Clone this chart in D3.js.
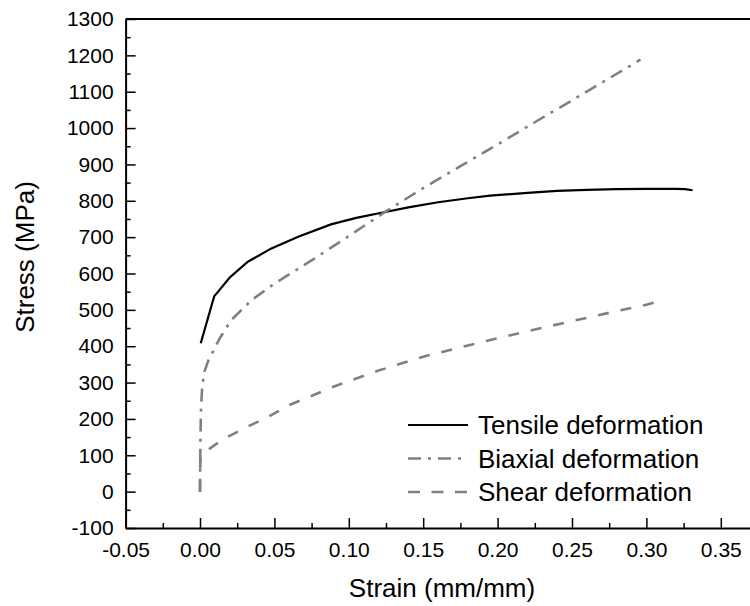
<!DOCTYPE html>
<html>
<head>
<meta charset="utf-8">
<script src="https://cdn.jsdelivr.net/npm/d3@7"></script>
<style>
  body { margin: 0; background: #fff; }
  text { font-family: "Liberation Sans", Arial, sans-serif; fill: #000; }
</style>
</head>
<body>
<svg id="chart"></svg>
<script>
// data
var tensileStrain = [0.0005, 0.0095, 0.02, 0.032, 0.048, 0.066, 0.088, 0.105, 0.122, 0.14, 0.16, 0.18, 0.195, 0.22, 0.24, 0.26, 0.28, 0.30, 0.32, 0.326, 0.331];
var tensileStress = [408, 537, 589, 632, 669, 701, 735, 753, 767, 782, 796, 807, 814, 822, 827, 830, 832, 833, 833, 832, 829];

var biaxialStrain = [0, 0.0001, 0.0003, 0.0007, 0.0015, 0.003, 0.0055, 0.0087, 0.013, 0.021, 0.035, 0.05, 0.075, 0.1, 0.125, 0.15, 0.175, 0.2, 0.225, 0.25, 0.275, 0.296];
var biaxialStress = [0, 60, 150, 230, 290, 330, 360, 385, 420, 472, 528, 572, 636, 703, 771, 835, 895, 955, 1016, 1076, 1137, 1188];

var shearStrain = [0, 0, 0.0003, 0.0035, 0.0155, 0.03, 0.045, 0.06, 0.09, 0.12, 0.15, 0.175, 0.2, 0.225, 0.25, 0.275, 0.3, 0.305];
var shearStress = [0, 40, 92, 110, 144, 175, 204, 238, 289, 333, 371, 397, 422, 446, 469, 492, 514, 520];

var seriesNames = ["Tensile deformation", "Biaxial deformation", "Shear deformation"];
var xTicks = [-0.05, 0, 0.05, 0.1, 0.15, 0.2, 0.25, 0.3, 0.35];
var yTicks = d3.range(-100, 1301, 100);

var w = 750, h = 606;

var x = d3.scaleLinear()
    .domain([-0.05, 0.38])
    .range([125.6, 125.6 + 0.43 * 1488]);
var y = d3.scaleLinear()
    .domain([-100, 1300])
    .range([528, 19]);

var svg = d3.select("#chart")
    .attr("width", w)
    .attr("height", h);

// minor ticks
svg.append("g")
    .attr("transform", "translate(0," + y(-100) + ")")
    .call(d3.axisBottom(x).tickValues(xTicks.map(function(d){ return d + 0.025; })).tickSize(-5).tickFormat(""))
    .call(function(g){ g.select(".domain").remove(); })
    .selectAll("line").attr("stroke-width", 1.5);
svg.append("g")
    .attr("transform", "translate(" + x(-0.05) + ",0)")
    .call(d3.axisLeft(y).tickValues(yTicks.slice(0, -1).map(function(d){ return d + 50; })).tickSize(-5).tickFormat(""))
    .call(function(g){ g.select(".domain").remove(); })
    .selectAll("line").attr("stroke-width", 1.5);

// major axes
var xAxis = svg.append("g")
    .attr("transform", "translate(0," + y(-100) + ")")
    .call(d3.axisBottom(x).tickValues(xTicks).tickSize(-10).tickSizeOuter(0).tickPadding(14)
        .tickFormat(d3.format(".2f")));
var yAxis = svg.append("g")
    .attr("transform", "translate(" + x(-0.05) + ",0)")
    .call(d3.axisLeft(y).tickValues(yTicks).tickSize(-10).tickSizeOuter(0).tickPadding(12)
        .tickFormat(d3.format("d")));
[xAxis, yAxis].forEach(function(a){
    a.selectAll("text").attr("font-size", 21).attr("font-family", "Liberation Sans, Arial, sans-serif");
    a.selectAll("line").attr("stroke-width", 1.5);
    a.select(".domain").attr("stroke-width", 2);
});
xAxis.selectAll("text").text(function(d){ return d3.format(".2f")(d).replace("−", "-"); });
yAxis.selectAll("text").text(function(d){ return String(d); });

// frame top and right
svg.append("path")
    .attr("d", "M" + x(-0.05) + "," + y(1300) + "H" + x(0.38) + "V" + y(-100))
    .attr("fill", "none")
    .attr("stroke", "#000")
    .attr("stroke-width", 2);

// axis titles
svg.append("text")
    .attr("x", 442)
    .attr("y", 597)
    .attr("text-anchor", "middle")
    .attr("font-size", 26)
    .text("Strain (mm/mm)");
svg.append("text")
    .attr("transform", "translate(34,257) rotate(-90)")
    .attr("text-anchor", "middle")
    .attr("font-size", 26)
    .text("Stress (MPa)");

// curves
var styles = [
    {color: "#000", width: 2.2, dash: null},
    {color: "#808080", width: 2.6, dash: "13,7,3,7"},
    {color: "#808080", width: 2.6, dash: "11,12"}
];
var series = [
    d3.zip(tensileStrain, tensileStress),
    d3.zip(biaxialStrain, biaxialStress),
    d3.zip(shearStrain, shearStress)
];
var line = d3.line()
    .x(function(d){ return x(d[0]); })
    .y(function(d){ return y(d[1]); });

svg.append("g").selectAll("path")
    .data(series)
    .enter()
    .append("path")
    .attr("d", line)
    .attr("fill", "none")
    .attr("stroke", function(d, i){ return styles[i].color; })
    .attr("stroke-width", function(d, i){ return styles[i].width; })
    .attr("stroke-dasharray", function(d, i){ return styles[i].dash; });

// legend
var legend = svg.append("g").attr("transform", "translate(408,425)");
var rows = legend.selectAll("g")
    .data(seriesNames)
    .enter()
    .append("g")
    .attr("transform", function(d, i){ return "translate(0," + (i * 33.5) + ")"; });
rows.append("line")
    .attr("x1", 0).attr("x2", 60)
    .attr("stroke", function(d, i){ return styles[i].color; })
    .attr("stroke-width", function(d, i){ return styles[i].width; })
    .attr("stroke-dasharray", function(d, i){ return i === 2 ? "12,11.5" : styles[i].dash; });
rows.append("text")
    .attr("x", 70)
    .attr("y", 9)
    .attr("font-size", 26)
    .text(function(d){ return d; });
</script>
</body>
</html>
